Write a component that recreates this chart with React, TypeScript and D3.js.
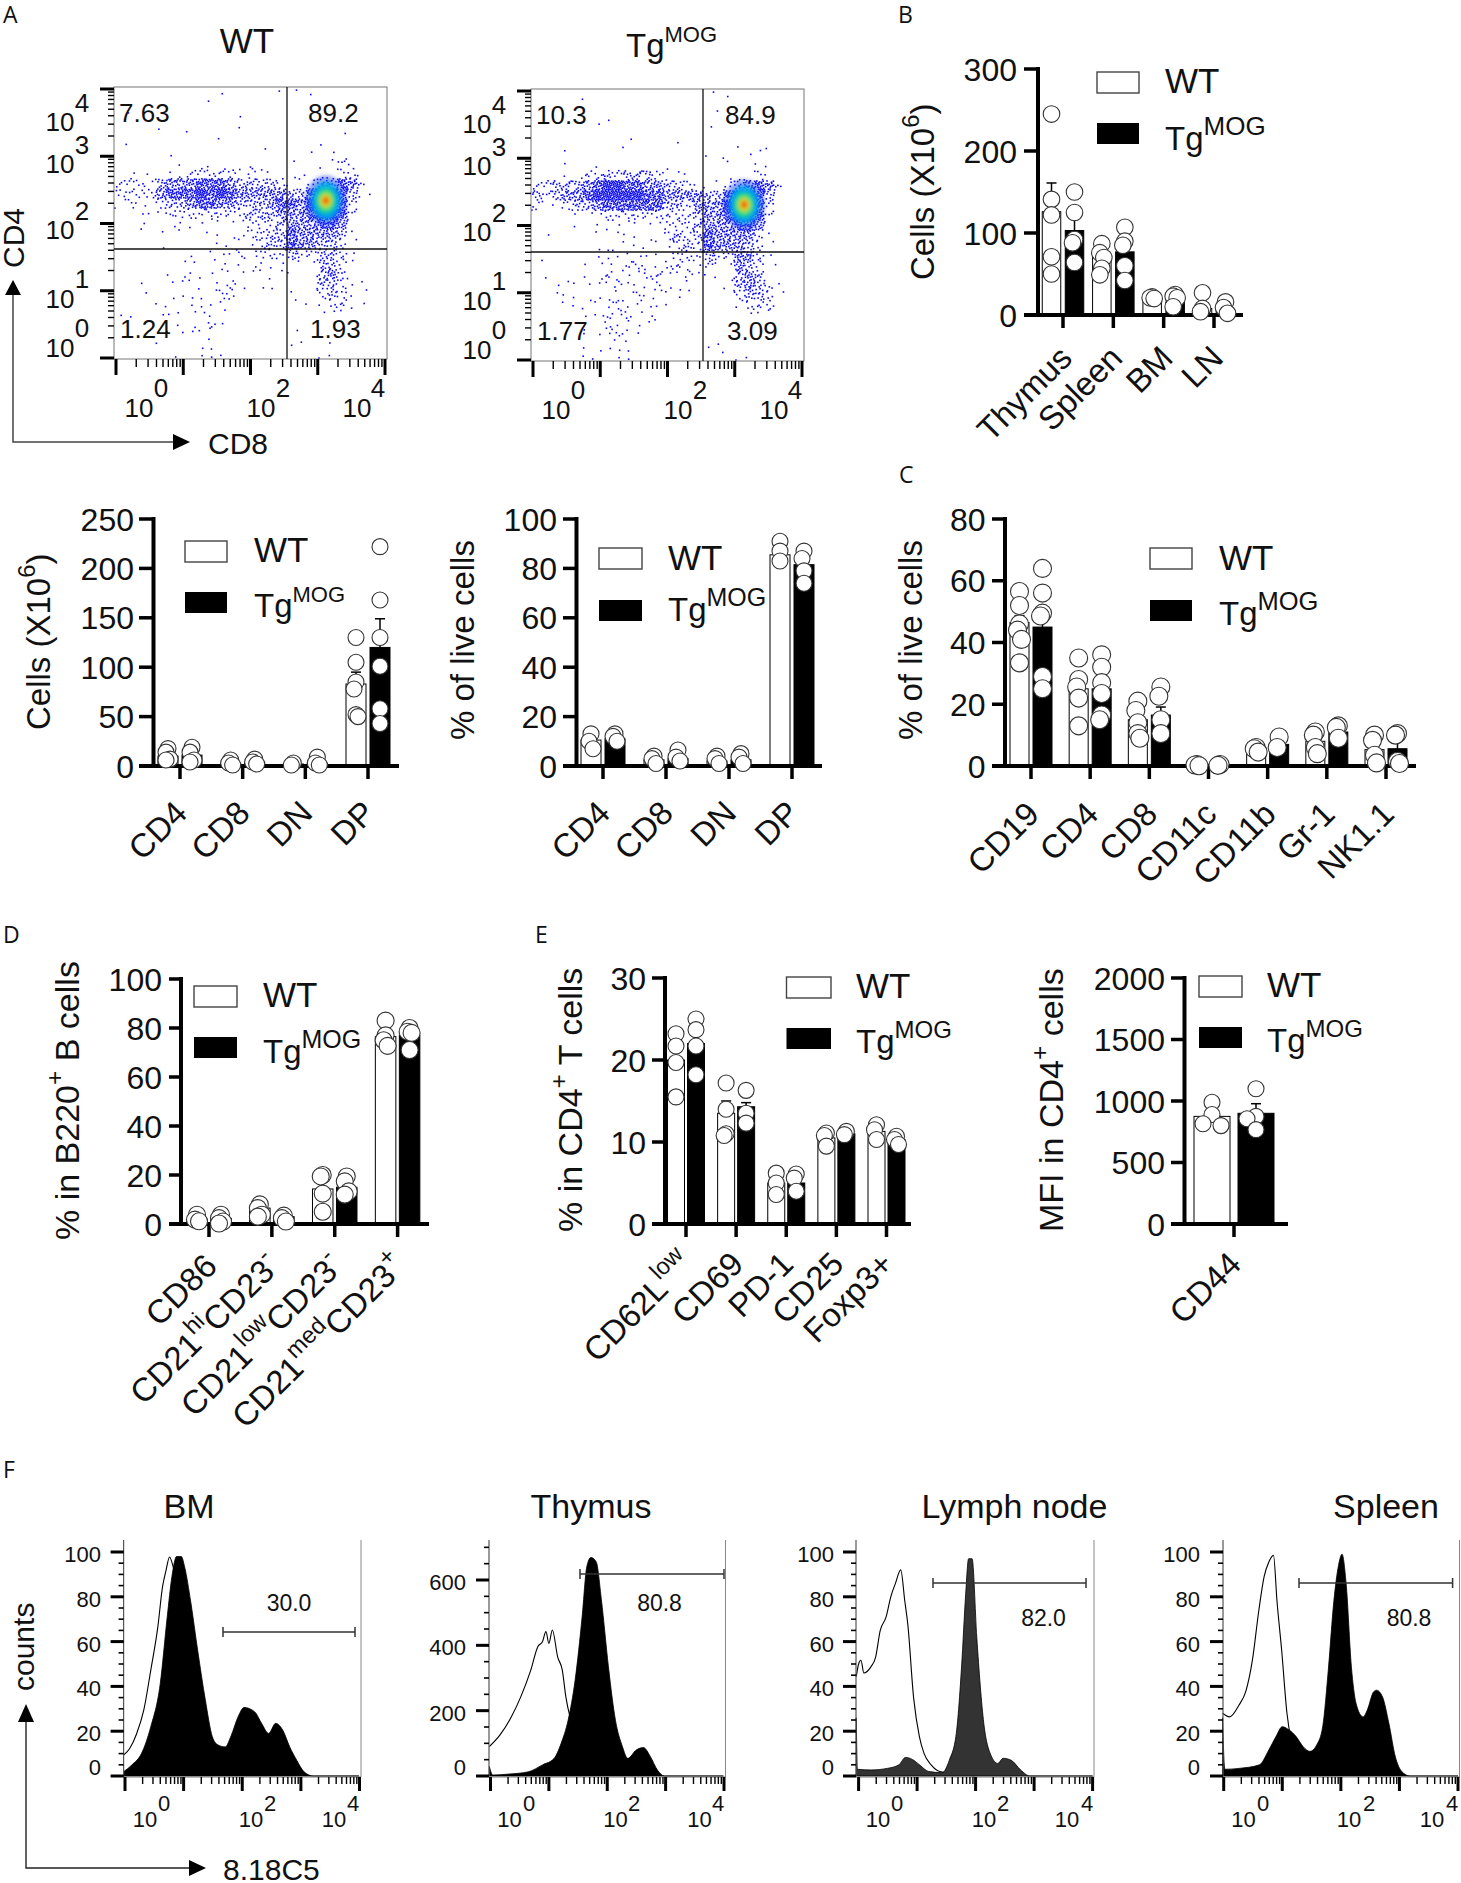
import { useRef, useEffect } from "react";
import * as d3 from "d3";

const SANS = "'Liberation Sans', Arial, sans-serif";
const LETTER = "'Open Sans', sans-serif";

// Panel A flow plots, density per 27x27 bin (dots per bin = digit squared)
const wtDensity = [
  "000000000010000011010000000", "000000000100000000000000000", "010000000000100000000000000",
  "000000000000100000000000000", "000010010000000000000010000", "010000000010000000001000000",
  "000001000000001000010100000", "000000100100010001001121000", "010101122222121101101122100",
  "222134445554333321123354200", "222245556565444443356653110", "121123345544333455466652000",
  "001112222222233344456652000", "001001111111122234445541000", "001010100111122335444431000",
  "000010000011112335443321000", "000000010111212223223321000", "000000110110111111113321000",
  "000001111111111111003421000", "001001111012101100003321100", "000101111022000001002321100",
  "000011011110000001101221100", "110011111110000000001110000", "000000110210000000000000000",
  "000001111100000000100000000", "000010001100000001100100000", "000000101110000000001100000",
];
const tgDensity = [
  "000001000000000001010000000", "000000000000000000000000000", "000000000000000000100000000",
  "000000110000000001000000000", "000000000100000000000000000", "000000000100001000001001000",
  "000100000000000001100110000", "000100100000010000010011000", "000112232333211100011121000",
  "223334566554433211123454200", "323445666665544443356653000", "211233455555533244466652000",
  "000011122222222234456652000", "000010111111122234445541000", "010000101111023235444421000",
  "000000111111112325444321000", "010000111111112223224421000", "000001110221122112114320100",
  "010001121112211211113431000", "001111112111211100013432100", "001111111121111000002332100",
  "000111112111110000001222000", "000001121211100000000110000", "000001021111000000000000000",
  "000001112110000000000000000", "000001111100000001100000000", "000001101100000000101100000",
];
const dither = [
  [.13, .62], [.71, .18], [.42, .87], [.91, .47], [.27, .33], [.58, .74], [.05, .09], [.83, .91], [.36, .11],
  [.66, .41], [.19, .83], [.97, .23], [.49, .56], [.08, .44], [.76, .68], [.31, .96], [.61, .03], [.22, .58],
  [.87, .31], [.45, .25], [.02, .72], [.69, .86], [.53, .15], [.16, .2], [.94, .78], [.38, .67], [.79, .53],
  [.26, .05], [.56, .93], [.11, .36], [.73, .29], [.47, .39], [.89, .07], [.34, .49], [.63, .59], [.01, .94],
];
const coreColors = ["#1030f0", "#00a8ee", "#18d880", "#c8e81e", "#ff7a00", "#f01010"];
const coreOpacity = [.5, .9, 1, 1, 1, 1];
const coreRx = [.3, .22, .15, .09, .055, .03];
const coreRy = [.37, .28, .19, .11, .065, .035];
const wtCore = [3.12, 2.34];
const tgCore = [3.14, 2.31];
const wtQuadrants = ["7.63", "89.2", "1.24", "1.93"];
const tgQuadrants = ["10.3", "84.9", "1.77", "3.09"];

// Panel A bars
const subsetCats = ["CD4", "CD8", "DN", "DP"];
const cellsWtMean = [10, 3, 2, 83];
const cellsTgMean = [11, 4, 3, 120];
const cellsWtErr = [2, 1, .5, 12];
const cellsTgErr = [3, 1, 1, 29];
const cellsWtPts = [[17.6, 14, 7, 6], [6, 3, 1], [3, 1], [130, 105, 85, 78, 52, 50]];
const cellsTgPts = [[19, 14, 6, 4], [7, 4, 2], [9, 3, 1], [222, 168, 130, 101, 58, 43]];

const liveWtMean = [10.5, 2.5, 2, 85.5];
const liveTgMean = [11, 3, 2.5, 81.5];
const liveWtErr = [1.5, .8, .6, 1.8];
const liveTgErr = [.8, 1, .8, 2];
const liveWtPts = [[13, 10, 7], [4, 3, 1], [4, 3, 1], [91, 87, 83]];
const liveTgPts = [[13, 12, 10], [6.5, 3.6, 2], [5, 3.6, 1], [87, 84, 79, 74]];

// Panel B
const organCats = ["Thymus", "Spleen", "BM", "LN"];
const organWtMean = [126, 71, 22, 8];
const organTgMean = [103, 77, 16, 4];
const organWtErr = [35, 9, 2, 6];
const organTgErr = [24, 10, 3, 3];
const organWtPts = [[245, 141, 122, 71, 50], [87, 76, 70, 57, 49], [22, 21, 20], [27, 8, 4]];
const organTgPts = [[150, 125, 92, 88, 64], [107, 90, 85, 60, 42], [25, 23, 21, 10], [16, 9, 2]];

// Panel C
const lineageCats = ["CD19", "CD4", "CD8", "CD11c", "CD11b", "Gr-1", "NK1.1"];
const lineageWtMean = [46.5, 25, 15, .5, 6, 8, 5.3];
const lineageTgMean = [45, 25, 16.5, .5, 7, 11, 5.6];
const lineageWtErr = [2.2, 3, 2, .1, .8, 1.5, 1.8];
const lineageTgErr = [2, 3, 2.6, .1, 1, 1, 2.7];
const lineageWtPts = [
  [56.5, 52, 46, 44, 41, 33.4], [35, 28, 25.6, 22, 13], [21, 18, 14, 10.5, 9],
  [.5, .3, .1], [6, 5.6, 4.5], [11, 10, 6, 4], [10, 8.3, 3.5, 1],
];
const lineageTgPts = [
  [64, 56, 49.5, 48.6, 29, 25], [36, 32, 27, 23.5, 16.5, 15], [25.6, 22.6, 15, 10.5],
  [.5, .2], [9.4, 6], [13, 12.5, 9], [10.5, 10, 1.5, .8],
];

// Panel D
const bCellCats = ["CD86", "CD21^{hi}CD23^{-}", "CD21^{low}CD23^{-}", "CD21^{med}CD23^{+}"];
const bCellWtMean = [2, 6.5, 14.3, 76.5];
const bCellTgMean = [2.3, 3, 15, 77];
const bCellWtErr = [.5, 1, 3, 2];
const bCellTgErr = [.5, .6, 2, 2];
const bCellWtPts = [[3.8, 1.8, 1.1], [8, 6.5, 3.8, 3], [20, 19.4, 12.4, 5], [83, 77, 75, 72.7]];
const bCellTgPts = [[3.8, 2.4, 1, .2], [3.4, 2.4, 1], [19.4, 17.4, 13.3, 12], [80, 78.5, 78, 71]];

// Panel E
const tCellCats = ["CD62L^{low}", "CD69", "PD-1", "CD25", "Foxp3+"];
const tCellWtMean = [20, 13.5, 5, 10.5, 11.3];
const tCellTgMean = [22, 14.3, 5, 11, 10.3];
const tCellWtErr = [1.6, 1.5, .6, .5, .4];
const tCellTgErr = [1.4, .5, .6, .2, .3];
const tCellWtPts = [[23.2, 21.7, 19.7, 15.5], [17.2, 14, 11, 10.8], [6.2, 5, 3.6], [11.1, 10.8, 9.5], [12.1, 11.5, 10.3]];
const tCellTgPts = [[25, 23.7, 21.7, 18.2], [16.3, 13.5, 12.3], [6.1, 5.6, 4], [11.3, 10.9], [10.7, 10.3, 9.7]];

const mfiCats = ["CD44"];
const mfiWtMean = [875];
const mfiTgMean = [900];
const mfiWtErr = [40];
const mfiTgErr = [78];
const mfiWtPts = [[990, 890, 815, 800]];
const mfiTgPts = [[1100, 875, 856, 767]];

// Panel F histograms: [decade tick position, counts]
const bmWt = [[-.02, 9.4], [.08, 12.3], [.2, 19], [.32, 29.4], [.44, 47.3], [.56, 66.6], [.64, 84.4], [.7, 91.8], [.76, 97.8], [.83, 92.6], [.88, 87.4], [1.08, 56], [1.33, 26], [1.49, 11.6], [1.73, 4], [2.05, 1]];
const bmTg = [[-.02, 2], [.12, 5], [.28, 10], [.44, 22], [.6, 41], [.72, 71], [.8, 89], [.88, 98], [.96, 98], [1.02, 93], [1.12, 78], [1.24, 56], [1.37, 34], [1.49, 17.5], [1.58, 14], [1.71, 13], [1.81, 18], [1.93, 26.5], [2.03, 30.6], [2.21, 28.7], [2.33, 23.5], [2.45, 19], [2.57, 23.5], [2.69, 20.5], [2.81, 13], [2.93, 7], [3.05, 2], [3.21, 0], [3.99, 0]];
const thymusWt = [[-.02, 90], [.16, 125], [.36, 182], [.52, 243], [.69, 324], [.81, 396], [.89, 411], [.95, 442], [1, 406], [1.06, 447], [1.15, 365], [1.23, 324], [1.29, 243], [1.39, 161], [1.53, 80], [1.77, 18], [2.1, 3]];
const thymusTg = [[-.02, 29], [.04, 3], [.32, 6], [.65, 13], [.89, 34], [1.09, 54], [1.21, 100], [1.33, 171], [1.45, 294], [1.57, 488], [1.65, 641], [1.72, 669], [1.81, 656], [1.9, 539], [2.02, 335], [2.14, 171], [2.26, 90], [2.35, 54], [2.5, 80], [2.62, 87], [2.74, 59], [2.86, 18], [2.98, 0], [3.99, 0]];
const nodeWt = [[-.04, 44.3], [0, 50], [.04, 51.7], [.09, 46], [.21, 48.7], [.29, 53], [.37, 65], [.47, 71], [.55, 80], [.63, 86], [.72, 92], [.79, 78], [.84, 68], [.94, 35], [1.04, 17.5], [1.12, 10], [1.24, 5], [1.39, 2], [1.67, 1], [1.98, 0]];
const nodeTg = [[-.04, 26], [-.02, 3], [.21, 2.7], [.49, 3.4], [.69, 5], [.8, 8.3], [.92, 7.4], [1.04, 5], [1.2, 2], [1.43, 1.5], [1.55, 7], [1.67, 19], [1.76, 48.7], [1.83, 81], [1.88, 97], [1.94, 97], [2.02, 62], [2.14, 23.5], [2.26, 9.4], [2.38, 5.6], [2.47, 7.9], [2.61, 7], [2.77, 2.7], [2.93, 0], [4, 0]];
const spleenWt = [[-.02, 28], [.1, 26.4], [.26, 31.6], [.38, 38], [.49, 51.7], [.6, 74], [.69, 89], [.77, 95.5], [.85, 98.5], [.91, 78], [.99, 56], [1.08, 28], [1.16, 14.6], [1.28, 5.6], [1.55, .5]];
const spleenTg = [[-.02, 26], [.02, 3], [.26, 3.4], [.61, 5], [.77, 11.6], [.89, 17.5], [1, 22], [1.12, 20.5], [1.24, 17.5], [1.36, 13], [1.47, 11], [1.59, 14], [1.69, 22], [1.79, 48.7], [1.88, 78], [1.96, 94], [2.02, 99], [2.09, 86], [2.18, 48.7], [2.26, 32.4], [2.38, 26.4], [2.45, 29.4], [2.56, 37.6], [2.61, 38.3], [2.71, 35.4], [2.82, 23.5], [2.93, 8.6], [3.04, 2], [3.18, 0], [4, 0]];
const percentTicks = [0, 20, 40, 60, 80, 100];
const thymusTicks = [0, 200, 400, 600];

type Sel = d3.Selection<any, any, any, any>;

// "CD4^{+} T" -> tspans with raised parts
function rich(text: Sel, str: string, fs: number, supFs = fs * 0.72) {
  let back = 0;
  str.split(/(\^\{[^}]*\})/).filter(Boolean).forEach(part => {
    const isSup = part.startsWith("^{");
    const t = text.append("tspan").style("white-space", "pre");
    if (isSup) {
      t.attr("font-size", supFs).attr("dy", -fs * 0.45 + back).text(part.slice(2, -1));
      back = fs * 0.45;
    } else {
      t.attr("dy", back).text(part);
      back = 0;
    }
  });
  return text;
}

function label(g: Sel, x: number, y: number, str: string, fs: number, anchor = "start", rotate = 0, font = SANS, supFs?: number) {
  const t = g.append("text")
    .attr("transform", `translate(${x},${y}) rotate(${rotate})`)
    .attr("text-anchor", anchor).attr("font-family", font).attr("font-size", fs).attr("fill", "#111");
  return rich(t, str, fs, supFs);
}

function arrowHead(g: Sel, tx: number, ty: number, dir: "up" | "right", len: number, half: number) {
  const pts = dir === "up"
    ? [[tx, ty], [tx - half, ty + len], [tx + half, ty + len]]
    : [[tx, ty], [tx - len, ty - half], [tx - len, ty + half]];
  g.append("path").attr("d", d3.line()(pts as [number, number][])! + "Z").attr("fill", "#000");
}

function logTicks(g: Sel, scale: d3.ScaleLinear<number, number>, axis: "x" | "y", at: number, major: number, minor: number, wMajor: number) {
  const line = (v: number, len: number, w: number) => {
    const l = g.append("line").attr("stroke", "#000").attr("stroke-width", w);
    if (axis === "x") l.attr("x1", scale(v)).attr("x2", scale(v)).attr("y1", at).attr("y2", at + len);
    else l.attr("y1", scale(v)).attr("y2", scale(v)).attr("x1", at).attr("x2", at - len);
  };
  d3.range(0, 5).forEach(i => {
    line(i, major, wMajor);
    if (i < 4) d3.range(2, 10).forEach(k => line(i + Math.log10(k), minor, 1.4));
  });
}

function flowPlot(svg: Sel, dx: number, dy: number, density: string[], core: number[], quadText: string[], vx: number, hy: number) {
  const g = svg.append("g").attr("transform", `translate(${dx},${dy})`);
  const gx = d3.scaleLinear().domain([0, 27]).range([114, 387]);
  const gy = d3.scaleLinear().domain([0, 27]).range([87, 359]);
  const ux = d3.scaleLinear().domain([0, 4]).range([116, 385]);
  const uy = d3.scaleLinear().domain([0, 4]).range([358, 89]);

  density.forEach((row, r) => {
    row.split("").forEach((ch, c) => {
      const n = (+ch) * (+ch);
      const start = (c * 7 + r * 13) % dither.length;
      d3.range(n).forEach(k => {
        const p = dither[(start + k) % dither.length];
        g.append("rect").attr("x", gx(c + p[0])).attr("y", gy(r + p[1])).attr("width", 1.6).attr("height", 1.6)
          .attr("fill", "#0808f5");
      });
    });
  });

  const blur = g.append("g").attr("filter", "url(#coreBlur)");
  coreColors.forEach((col, i) => {
    blur.append("ellipse").attr("cx", ux(core[0])).attr("cy", uy(core[1]))
      .attr("rx", ux(coreRx[i]) - ux(0)).attr("ry", uy(0) - uy(coreRy[i])).attr("fill", col).attr("opacity", coreOpacity[i]);
  });

  g.append("rect").attr("x", 114).attr("y", 87).attr("width", 273).attr("height", 272)
    .attr("fill", "none").attr("stroke", "#777").attr("stroke-width", 1);
  g.append("line").attr("x1", vx).attr("x2", vx).attr("y1", 87).attr("y2", 359).attr("stroke", "#111").attr("stroke-width", 1.3);
  g.append("line").attr("x1", 114).attr("x2", 387).attr("y1", hy).attr("y2", hy).attr("stroke", "#111").attr("stroke-width", 1.6);

  logTicks(g, ux, "x", 359, 16, 8, 3);
  logTicks(g, uy, "y", 114, 14, 6, 3);

  [[139, 161, "0"], [261, 283, "2"], [357, 378, "4"]].forEach(([x, sx, e]) => {
    label(g, x as number, 417, "10", 26, "middle");
    label(g, sx as number, 397, e as string, 26, "middle");
  });
  [[131, 112, "4"], [173, 154, "3"], [239, 220, "2"], [308, 288, "1"], [357, 337, "0"]].forEach(([b, sb, e]) => {
    label(g, 60, b as number, "10", 26, "middle");
    label(g, 82, sb as number, e as string, 26, "middle");
  });
  [[119, 122], [308, 122], [120, 338], [310, 338]].forEach(([x, y], i) => label(g, x, y, quadText[i], 26));
}

interface BarCfg {
  axisX: number; yTop: number; yBottom: number; max: number; step: number;
  tickLeft: number; baseEnd: number; tickFirst: number; tickLast: number; off: number; barW: number; r: number; spread: number;
  labelRight: number; cats: string[]; wtMean: number[]; tgMean: number[]; wtErr: number[]; tgErr: number[]; wtPts: number[][]; tgPts: number[][];
  yLabel: string; yLabelX: number; yLabelStart: number; yLabelFs: number;
  catDx: number; catY: number; mogFs: number;
  lx: number; lw: number; ly1: number; ly2: number; lh: number; tx: number; ty1: number; ty2: number;
}

function barPanel(svg: Sel, c: BarCfg) {
  const g = svg.append("g");
  const y = d3.scaleLinear().domain([0, c.max]).range([c.yBottom, c.yTop]);
  const x = d3.scaleLinear().domain([0, Math.max(c.cats.length - 1, 1)]).range([c.tickFirst, c.tickLast]);

  const series = [
    { mean: c.wtMean, err: c.wtErr, pts: c.wtPts, off: -c.off, fill: "#fff" },
    { mean: c.tgMean, err: c.tgErr, pts: c.tgPts, off: c.off, fill: "#000" },
  ];
  series.forEach(s => {
    s.mean.forEach((m, i) => {
      const cx = x(i) + s.off;
      g.append("line").attr("x1", cx).attr("x2", cx).attr("y1", y(m)).attr("y2", y(m + s.err[i])).attr("stroke", "#000").attr("stroke-width", 1.5);
      g.append("line").attr("x1", cx - 5).attr("x2", cx + 5).attr("y1", y(m + s.err[i])).attr("y2", y(m + s.err[i])).attr("stroke", "#000").attr("stroke-width", 1.5);
      g.append("rect").attr("x", cx - c.barW / 2).attr("y", y(m)).attr("width", c.barW).attr("height", y(0) - y(m))
        .attr("fill", s.fill).attr("stroke", "#000").attr("stroke-width", 1);
    });
  });

  // axes
  g.append("line").attr("x1", c.axisX).attr("x2", c.axisX).attr("y1", c.yTop - 2).attr("y2", c.yBottom).attr("stroke", "#000").attr("stroke-width", 4);
  g.append("line").attr("x1", c.tickLeft).attr("x2", c.baseEnd).attr("y1", c.yBottom).attr("y2", c.yBottom).attr("stroke", "#000").attr("stroke-width", 4);
  y.ticks((c.max / c.step)).filter(v => v % c.step === 0).forEach(v => {
    g.append("line").attr("x1", c.tickLeft).attr("x2", c.axisX).attr("y1", y(v)).attr("y2", y(v)).attr("stroke", "#000").attr("stroke-width", 3.5);
    g.append("text").attr("x", c.labelRight).attr("y", y(v)).attr("dy", "0.36em").attr("text-anchor", "end")
      .attr("font-family", SANS).attr("font-size", 32).attr("fill", "#111").text(v);
  });
  c.cats.forEach((cat, i) => {
    g.append("line").attr("x1", x(i)).attr("x2", x(i)).attr("y1", c.yBottom).attr("y2", c.yBottom + 13).attr("stroke", "#000").attr("stroke-width", 3.5);
    label(g, x(i) + c.catDx, c.catY, cat, 33, "end", -45);
  });

  // circles go on top of everything
  series.forEach(s => {
    s.pts.forEach((vals, i) => {
      const cx = x(i) + s.off;
      let side = 1;
      vals.forEach((v, k) => {
        const close = k > 0 && Math.abs(y(v) - y(vals[k - 1])) < c.r * 1.2;
        if (close) side = -side;
        g.append("circle").attr("cx", cx + (close ? side * c.spread : 0)).attr("cy", y(v)).attr("r", c.r)
          .attr("fill", "#fff").attr("stroke", "#333").attr("stroke-width", 1.1);
      });
    });
  });

  label(g, c.yLabelX, c.yLabelStart, c.yLabel, c.yLabelFs, "start", -90);

  g.append("rect").attr("x", c.lx).attr("y", c.ly1).attr("width", c.lw).attr("height", c.lh).attr("fill", "#fff").attr("stroke", "#444").attr("stroke-width", 1.4);
  g.append("rect").attr("x", c.lx).attr("y", c.ly2).attr("width", c.lw).attr("height", c.lh).attr("fill", "#000");
  label(g, c.tx, c.ty1, "WT", 35);
  label(g, c.tx, c.ty2, "Tg^{MOG}", 33, "start", 0, SANS, c.mogFs);
}

interface HistCfg {
  title: string; titleX: number; left: number; right: number; xFirst: number; xLast: number;
  wt: number[][]; tg: number[][]; max: number; yTicks: number[]; minorStep: number; top0: number; fill: string;
  labelRight: number; exp: number[][]; gate: number[]; gateText: string; gateTextX: number; gateTextY: number;
}

function histPanel(svg: Sel, c: HistCfg) {
  const g = svg.append("g");
  const bottom = 1777;
  const x = d3.scaleLinear().domain([0, 4]).range([c.xFirst, c.xLast]);
  const y = d3.scaleLinear().domain([0, c.max]).range([1776, c.top0]);

  g.append("path").attr("d", d3.line().x(d => x(d[0])).y(d => y(d[1])).curve(d3.curveMonotoneX)(c.wt as [number, number][])!)
    .attr("fill", "none").attr("stroke", "#000").attr("stroke-width", 1.1);
  g.append("path").attr("d", d3.area().x(d => x(d[0])).y0(y(0)).y1(d => y(d[1])).curve(d3.curveMonotoneX)(c.tg as [number, number][])!)
    .attr("fill", c.fill).attr("stroke", "#000").attr("stroke-width", 0.8);

  g.append("line").attr("x1", c.left).attr("x2", c.left).attr("y1", 1540).attr("y2", bottom).attr("stroke", "#555").attr("stroke-width", 1.2);
  g.append("line").attr("x1", c.right).attr("x2", c.right).attr("y1", 1540).attr("y2", bottom).attr("stroke", "#888").attr("stroke-width", 1);
  g.append("line").attr("x1", c.left).attr("x2", c.right).attr("y1", bottom).attr("y2", bottom).attr("stroke", "#777").attr("stroke-width", 1);

  logTicks(g, x, "x", bottom, 14, 7, 3);

  const yMax = y.invert(1544);
  d3.range(0, yMax, c.minorStep).forEach(v => {
    g.append("line").attr("x1", c.left - 5).attr("x2", c.left).attr("y1", y(v)).attr("y2", y(v)).attr("stroke", "#000").attr("stroke-width", 1.6);
  });
  c.yTicks.forEach(v => {
    g.append("line").attr("x1", c.left - 13).attr("x2", c.left).attr("y1", y(v)).attr("y2", y(v)).attr("stroke", "#000").attr("stroke-width", 3);
    label(g, c.labelRight, y(v) + (v === 0 ? -1 : 10), String(v), 22, "end");
  });

  c.exp.forEach(([cx, sx], i) => {
    label(g, cx, 1827, "10", 22, "middle");
    label(g, sx, 1811, String(i * 2), 22, "middle");
  });

  const [g1, g2, gy] = c.gate;
  g.append("path").attr("d", `M${g1},${gy - 5}V${gy + 5}M${g1},${gy}H${g2}M${g2},${gy - 5}V${gy + 5}`)
    .attr("fill", "none").attr("stroke", "#333").attr("stroke-width", 1.5);
  label(g, c.gateTextX, c.gateTextY, c.gateText, 23, "middle");
  label(g, c.titleX, 1518, c.title, 34, "middle");
}

export default function App() {
  const svgRef = useRef<SVGSVGElement>(null);

  useEffect(() => {
    if (!svgRef.current) return;
    const svg = d3.select(svgRef.current);
    svg.selectAll("*").remove();

    const blur = svg.append("defs").append("filter").attr("id", "coreBlur")
      .attr("x", "-30%").attr("y", "-30%").attr("width", "160%").attr("height", "160%");
    blur.append("feGaussianBlur").attr("stdDeviation", 2.2);

    // panel letters
    [["A", 3, 23], ["B", 898, 23], ["C", 899, 483], ["D", 3, 943], ["E", 535, 943], ["F", 3, 1478]].forEach(([t, x, y]) =>
      label(svg, x as number, y as number, t as string, 23, "start", 0, LETTER));

    // A: flow plots
    flowPlot(svg, 0, 0, wtDensity, wtCore, wtQuadrants, 287, 249);
    flowPlot(svg, 417, 2, tgDensity, tgCore, tgQuadrants, 286, 250);
    label(svg, 247, 53, "WT", 35, "middle");
    label(svg, 626, 57, "Tg^{MOG}", 33, "start", 0, SANS, 22);
    svg.append("path").attr("d", "M13,295V442H173").attr("fill", "none").attr("stroke", "#444").attr("stroke-width", 1.5);
    arrowHead(svg, 13, 280, "up", 15, 8);
    arrowHead(svg, 190, 442, "right", 17, 8);
    label(svg, 24, 268, "CD4", 30, "start", -90);
    label(svg, 208, 454, "CD8", 30);

    const cellsAxis = { axisX: 153.5, yTop: 519, yBottom: 766, tickLeft: 139, off: 12, barW: 20, r: 8, spread: 2, catY: 815, catDx: 9 };
    barPanel(svg, {
      ...cellsAxis, max: 250, step: 50, baseEnd: 399, tickFirst: 180, tickLast: 368, labelRight: 134,
      cats: subsetCats, wtMean: cellsWtMean, tgMean: cellsTgMean, wtErr: cellsWtErr, tgErr: cellsTgErr, wtPts: cellsWtPts, tgPts: cellsTgPts,
      yLabel: "Cells (X10^{6})", yLabelX: 50, yLabelStart: 730, yLabelFs: 33, mogFs: 22,
      lx: 185, lw: 42, ly1: 541, ly2: 592, lh: 21, tx: 254, ty1: 562, ty2: 617,
    });
    barPanel(svg, {
      ...cellsAxis, axisX: 576.5, tickLeft: 563, max: 100, step: 20, baseEnd: 822, tickFirst: 603, tickLast: 792, labelRight: 557,
      cats: subsetCats, wtMean: liveWtMean, tgMean: liveTgMean, wtErr: liveWtErr, tgErr: liveTgErr, wtPts: liveWtPts, tgPts: liveTgPts,
      yLabel: "% of live cells", yLabelX: 474, yLabelStart: 740, yLabelFs: 33, mogFs: 25,
      lx: 599, lw: 43, ly1: 548, ly2: 600, lh: 21, tx: 668, ty1: 570, ty2: 621,
    });

    // B
    barPanel(svg, {
      axisX: 1038, yTop: 69, yBottom: 315, max: 300, step: 100, tickLeft: 1024, baseEnd: 1243, tickFirst: 1063, tickLast: 1214,
      off: 11.5, barW: 18.5, r: 8.3, spread: 2, labelRight: 1017, mogFs: 26,
      cats: organCats, wtMean: organWtMean, tgMean: organTgMean, wtErr: organWtErr, tgErr: organTgErr, wtPts: organWtPts, tgPts: organTgPts,
      yLabel: "Cells (X10^{6})", yLabelX: 934, yLabelStart: 280, yLabelFs: 33, catDx: 11, catY: 360,
      lx: 1097, lw: 42, ly1: 72, ly2: 123, lh: 21, tx: 1165, ty1: 93, ty2: 150,
    });

    // C
    barPanel(svg, {
      axisX: 1005, yTop: 519, yBottom: 766, max: 80, step: 20, tickLeft: 992, baseEnd: 1416, tickFirst: 1031, tickLast: 1386,
      off: 11.5, barW: 19, r: 9, spread: 2, labelRight: 985.5, mogFs: 25.5,
      cats: lineageCats, wtMean: lineageWtMean, tgMean: lineageTgMean, wtErr: lineageWtErr, tgErr: lineageTgErr, wtPts: lineageWtPts, tgPts: lineageTgPts,
      yLabel: "% of live cells", yLabelX: 921.5, yLabelStart: 740, yLabelFs: 33, catDx: 10, catY: 816,
      lx: 1150, lw: 42, ly1: 548, ly2: 600, lh: 21, tx: 1219, ty1: 570, ty2: 625,
    });

    // D
    barPanel(svg, {
      axisX: 181, yTop: 979, yBottom: 1224, max: 100, step: 20, tickLeft: 169, baseEnd: 429, tickFirst: 209, tickLast: 397.6,
      off: 12, barW: 20.5, r: 8.5, spread: 2, labelRight: 162, mogFs: 25,
      cats: bCellCats, wtMean: bCellWtMean, tgMean: bCellTgMean, wtErr: bCellWtErr, tgErr: bCellTgErr, wtPts: bCellWtPts, tgPts: bCellTgPts,
      yLabel: "% in B220^{+} B cells", yLabelX: 78.6, yLabelStart: 1240, yLabelFs: 34, catDx: 10, catY: 1268,
      lx: 194, lw: 43, ly1: 986, ly2: 1037, lh: 21, tx: 263, ty1: 1007, ty2: 1063,
    });

    // E
    barPanel(svg, {
      axisX: 665, yTop: 978, yBottom: 1224, max: 30, step: 10, tickLeft: 652, baseEnd: 911, tickFirst: 686, tickLast: 886.5,
      off: 10, barW: 17, r: 8, spread: 2, labelRight: 646, mogFs: 24,
      cats: tCellCats, wtMean: tCellWtMean, tgMean: tCellTgMean, wtErr: tCellWtErr, tgErr: tCellTgErr, wtPts: tCellWtPts, tgPts: tCellTgPts,
      yLabel: "% in CD4^{+} T cells", yLabelX: 582, yLabelStart: 1232, yLabelFs: 34, catDx: 9, catY: 1266,
      lx: 786.5, lw: 44.5, ly1: 977, ly2: 1028, lh: 21, tx: 856, ty1: 998, ty2: 1053,
    });
    barPanel(svg, {
      axisX: 1184.5, yTop: 978, yBottom: 1224, max: 2000, step: 500, tickLeft: 1171, baseEnd: 1288, tickFirst: 1234, tickLast: 1234,
      off: 22, barW: 36, r: 8, spread: 9, labelRight: 1165, mogFs: 24,
      cats: mfiCats, wtMean: mfiWtMean, tgMean: mfiTgMean, wtErr: mfiWtErr, tgErr: mfiTgErr, wtPts: mfiWtPts, tgPts: mfiTgPts,
      yLabel: "MFI in CD4^{+} cells", yLabelX: 1063, yLabelStart: 1232, yLabelFs: 34, catDx: 9, catY: 1266,
      lx: 1199, lw: 43, ly1: 976, ly2: 1027, lh: 21, tx: 1267, ty1: 997, ty2: 1052,
    });

    // F
    const pct = { max: 100, yTicks: percentTicks, minorStep: 5, top0: 1552, fill: "#000" };
    histPanel(svg, {
      ...pct, title: "BM", titleX: 189, left: 123.6, right: 361, xFirst: 125, xLast: 359.5, wt: bmWt, tg: bmTg, labelRight: 101,
      exp: [[145, 164], [251, 270], [334, 353]], gate: [223, 355, 1632], gateText: "30.0", gateTextX: 289, gateTextY: 1611,
    });
    histPanel(svg, {
      title: "Thymus", titleX: 591, left: 489, right: 725.5, xFirst: 490.5, xLast: 724, wt: thymusWt, tg: thymusTg,
      max: 600, yTicks: thymusTicks, minorStep: 50, top0: 1580, fill: "#000", labelRight: 466,
      exp: [[509.5, 529], [615.5, 634], [699.5, 718]], gate: [580, 724, 1574], gateText: "80.8", gateTextX: 659.5, gateTextY: 1611,
    });
    histPanel(svg, {
      ...pct, fill: "#333", title: "Lymph node", titleX: 1014.5, left: 856, right: 1094, xFirst: 858.6, xLast: 1092.6, wt: nodeWt, tg: nodeTg, labelRight: 834,
      exp: [[878, 897], [984, 1003], [1067, 1087]], gate: [933, 1086, 1583], gateText: "82.0", gateTextX: 1043.5, gateTextY: 1626,
    });
    histPanel(svg, {
      ...pct, title: "Spleen", titleX: 1386, left: 1223, right: 1459.5, xFirst: 1223.7, xLast: 1458, wt: spleenWt, tg: spleenTg, labelRight: 1200,
      exp: [[1243.5, 1263], [1349, 1369], [1432, 1452]], gate: [1299, 1452.6, 1583], gateText: "80.8", gateTextX: 1409, gateTextY: 1626,
    });
    svg.append("path").attr("d", "M26,1722V1868H189").attr("fill", "none").attr("stroke", "#222").attr("stroke-width", 1.4);
    arrowHead(svg, 26, 1704, "up", 18, 8);
    arrowHead(svg, 206, 1868, "right", 17, 8);
    label(svg, 34, 1691, "counts", 30, "start", -90);
    label(svg, 223, 1880, "8.18C5", 30);
  }, []);

  return <svg ref={svgRef} width={1461} height={1883} style={{ position: "absolute", left: 0, top: 0, background: "#fff" }} />;
}
